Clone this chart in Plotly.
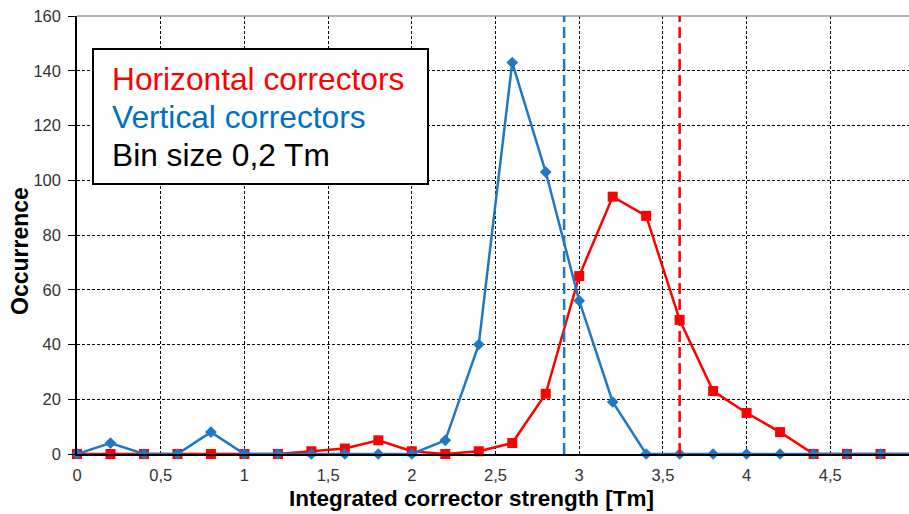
import plotly.graph_objects as go

# Histogram of integrated corrector strengths (bin size 0.2 Tm)
bins = [0.0, 0.2, 0.4, 0.6, 0.8, 1.0, 1.2, 1.4, 1.6, 1.8, 2.0, 2.2, 2.4,
        2.6, 2.8, 3.0, 3.2, 3.4, 3.6, 3.8, 4.0, 4.2, 4.4, 4.6, 4.8, 5.0]
horizontal = [0, 0, 0, 0, 0, 0, 0, 1, 2, 5, 1, 0, 1,
              4, 22, 65, 94, 87, 49, 23, 15, 8, 0, 0, 0, 0]
vertical = [0, 4, 0, 0, 8, 0, 0, 0, 0, 0, 0, 5, 40,
            143, 103, 56, 19, 0, 0, 0, 0, 0, 0, 0, 0, 0]

# Reference strengths marked with dashed lines
vertical_ref = 2.91
horizontal_ref = 3.6

x_ticks = [0, 0.5, 1, 1.5, 2, 2.5, 3, 3.5, 4, 4.5, 5]
x_tick_text = ["0", "0,5", "1", "1,5", "2", "2,5", "3", "3,5", "4", "4,5", "5"]
y_ticks = [0, 20, 40, 60, 80, 100, 120, 140, 160]

RED = "#ff0000"
BLUE = "#1f78c4"
FONT = "Arial, Liberation Sans, sans-serif"

W, H = 909, 514
L, R, T, B = 77, 0, 16, 60
plot_w = W - L - R
plot_h = H - T - B


def px(xp):
    return (xp - L) / plot_w


def py(yp):
    return (H - B - yp) / plot_h


fig = go.Figure()

fig.add_trace(go.Scatter(
    x=bins, y=horizontal, mode="lines+markers", name="Horizontal correctors",
    line=dict(color=RED, width=2.5),
    marker=dict(symbol="square", size=10, color=RED),
    cliponaxis=False,
))
fig.add_trace(go.Scatter(
    x=bins, y=vertical, mode="lines+markers", name="Vertical correctors",
    line=dict(color=BLUE, width=2.5),
    marker=dict(symbol="diamond", size=9, color=BLUE),
    cliponaxis=False,
))

shapes = [
    # top border of the plot area
    dict(type="line", xref="paper", yref="paper", x0=0, x1=1, y0=1, y1=1,
         line=dict(color="#9a9a9a", width=1.5), layer="above"),
    # text box
    dict(type="rect", xref="paper", yref="paper",
         x0=px(93), x1=px(428), y0=py(184), y1=py(49),
         fillcolor="white", line=dict(color="black", width=2), layer="above"),
    # reference strength lines
    dict(type="line", xref="x", yref="y", x0=vertical_ref, x1=vertical_ref,
         y0=0, y1=160, line=dict(color=BLUE, width=2.5, dash="11px,5px"),
         layer="above"),
    dict(type="line", xref="x", yref="y", x0=horizontal_ref, x1=horizontal_ref,
         y0=0, y1=160, line=dict(color=RED, width=2.5, dash="11px,5px"),
         layer="above"),
]

box_lines = [("Horizontal correctors", RED, 79),
             ("Vertical correctors", "#0070c0", 117),
             ("Bin size 0,2 Tm", "black", 155)]
annotations = []
for text, color, yc in box_lines:
    annotations.append(dict(
        text=text, xref="paper", yref="paper", x=px(110), y=py(yc),
        xanchor="left", yanchor="middle", showarrow=False,
        font=dict(family=FONT, size=31.7, color=color)))

annotations.append(dict(
    text="<b>Occurrence</b>", xref="paper", yref="paper", x=px(20), y=py(251),
    xanchor="center", yanchor="middle", textangle=-90, showarrow=False,
    font=dict(family=FONT, size=23, color="black")))
annotations.append(dict(
    text="<b>Integrated corrector strength [Tm]</b>", xref="paper", yref="paper",
    x=px(471), y=py(498), xanchor="center", yanchor="middle", showarrow=False,
    font=dict(family=FONT, size=22.5, color="black")))

fig.update_layout(
    width=W, height=H,
    margin=dict(l=L, r=R, t=T, b=B, pad=0),
    paper_bgcolor="white", plot_bgcolor="white",
    showlegend=False,
    font=dict(family=FONT, size=16, color="#333333"),
    shapes=shapes, annotations=annotations,
    xaxis=dict(
        range=[0, plot_w / 167.4], tickvals=x_ticks, ticktext=x_tick_text,
        showgrid=True, gridcolor="black", gridwidth=1.3, griddash="3px,2px",
        showline=True, linecolor="black", linewidth=2,
        ticks="", zeroline=False, ticklabelstandoff=5,
        tickfont=dict(family=FONT, size=16.5, color="#333333"),
    ),
    yaxis=dict(
        range=[0, 160], tickvals=y_ticks,
        showgrid=True, gridcolor="black", gridwidth=1.3, griddash="3px,2px",
        showline=True, linecolor="black", linewidth=1.5,
        ticks="outside", ticklen=7, tickcolor="black", tickwidth=1,
        zeroline=False, ticklabelstandoff=4,
        tickfont=dict(family=FONT, size=16.5, color="#333333"),
    ),
)

fig.write_html("out.html")
